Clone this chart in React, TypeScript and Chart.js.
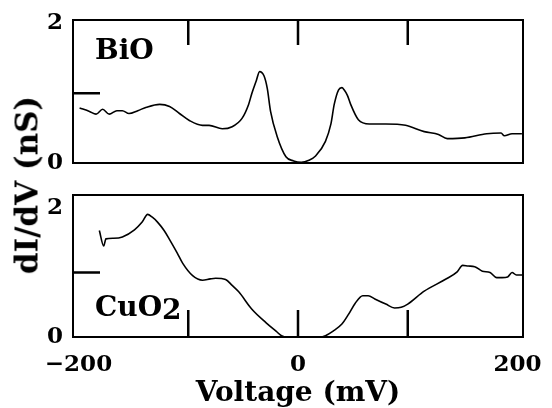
import React, { useEffect, useRef } from "react";
import { Chart, registerables } from "chart.js";

Chart.register(...registerables);

// ---- data (mV, nS) ----
const voltageBiO = [
  -199, -190, -184, -178, -172, -165, -160, -154, -146, -138, -126, -117, -108, -99, -87, -81,
  -69, -60, -51, -45, -42, -38, -35, -31, -28, -25, -19, -11, -4, 3, 10, 16, 25, 30, 33, 37, 40,
  42, 45, 48, 55, 65, 80, 98, 115, 128, 136, 152, 172, 185, 188, 195, 204,
];
const conductanceBiO = [
  0.79, 0.74, 0.70, 0.77, 0.70, 0.75, 0.75, 0.71, 0.75, 0.80, 0.84, 0.81, 0.71, 0.61, 0.54, 0.54,
  0.49, 0.52, 0.64, 0.84, 1.0, 1.18, 1.31, 1.25, 1.07, 0.74, 0.38, 0.09, 0.03, 0.01, 0.04, 0.1,
  0.31, 0.56, 0.84, 1.05, 1.08, 1.05, 0.97, 0.84, 0.62, 0.56, 0.56, 0.54, 0.45, 0.41, 0.35, 0.36,
  0.42, 0.43, 0.39, 0.42, 0.42,
];
const voltageCuO2 = [
  -181, -177, -175, -168, -160, -149, -142, -137, -133, -128, -122, -117, -110, -105, -96, -87,
  -80, -75, -66, -60, -54, -42, -29, -20, -15, -10, 0, 10, 20, 25, 32, 40, 46, 52, 59, 64, 70, 80,
  88, 94, 100, 115, 134, 145, 150, 155, 161, 168, 175, 181, 186, 191, 195, 199, 205,
];
const conductanceCuO2 = [
  1.65, 1.41, 1.52, 1.53, 1.55, 1.66, 1.78, 1.9, 1.86, 1.78, 1.65, 1.51, 1.3, 1.14, 0.95, 0.88,
  0.9, 0.91, 0.89, 0.8, 0.7, 0.43, 0.22, 0.09, 0.02, 0, 0, 0, 0, 0.02, 0.09, 0.2, 0.35, 0.52, 0.64,
  0.64, 0.59, 0.51, 0.45, 0.46, 0.51, 0.71, 0.89, 1.01, 1.11, 1.1, 1.09, 1.02, 1.0, 0.92, 0.92,
  0.93, 1.0, 0.96, 0.96,
];

const xTickLabels = [-200, 0, 200];
const yTickLabels = [0, 2];
const innerXTicks = [-100, 0, 100];
const innerYTicks = [1];
const xMin = -205;
const xMax = 205;
const yMaxBiO = 2.05;
const yMaxCuO2 = 2.2;

const FONT = "'DejaVu Serif', serif";

type Side = "top" | "bottom";

function framePlugin(side: Side) {
  return {
    id: "panelFrame",
    afterDraw(chart: any) {
      const { ctx, chartArea: a, scales } = chart;
      ctx.save();
      ctx.strokeStyle = "#000";
      ctx.lineWidth = 2;
      ctx.strokeRect(a.left, a.top, a.right - a.left, a.bottom - a.top);
      ctx.lineWidth = 2.5;
      ctx.beginPath();
      for (const v of innerXTicks) {
        const px = scales.x.getPixelForValue(v);
        if (side === "top") {
          ctx.moveTo(px, a.top);
          ctx.lineTo(px, a.top + 25);
        } else {
          ctx.moveTo(px, a.bottom);
          ctx.lineTo(px, a.bottom - 27);
        }
      }
      for (const v of innerYTicks) {
        const py = scales.y.getPixelForValue(v);
        ctx.moveTo(a.left, py);
        ctx.lineTo(a.left + 27, py);
      }
      ctx.stroke();
      ctx.restore();
    },
  };
}

function makeConfig(xs: number[], ys: number[], yMax: number, side: Side): any {
  const xScale: any = {
    type: "linear",
    min: xMin,
    max: xMax,
    display: side === "bottom",
    afterBuildTicks: (s: any) => {
      s.ticks = xTickLabels.map((v) => ({ value: v }));
    },
    afterFit: (s: any) => {
      if (side === "bottom") s.height = 71;
      s.paddingLeft = 0;
      s.paddingRight = 0;
    },
    grid: { display: false, drawTicks: false },
    border: { display: false },
    ticks: {
      padding: 14,
      color: "#000",
      maxRotation: 0,
      autoSkip: false,
      font: { family: FONT, size: 23, weight: "bold" },
      callback: (v: number) => (v < 0 ? "\u2212" + Math.abs(v) : String(v)),
    },
    title: {
      display: true,
      text: "Voltage (mV)",
      color: "#000",
      padding: { top: 0, bottom: 0 },
      font: { family: FONT, size: 28, weight: "bold", lineHeight: 1 },
    },
  };
  return {
    type: "line",
    data: {
      datasets: [
        {
          data: xs.map((x, i) => ({ x, y: ys[i] })),
          borderColor: "#000",
          borderWidth: 1.6,
          pointRadius: 0,
          cubicInterpolationMode: "monotone",
          fill: false,
        },
      ],
    },
    options: {
      animation: false,
      responsive: false,
      maintainAspectRatio: false,
      layout: {
        padding:
          side === "top"
            ? { top: 20, right: 29, bottom: 12, left: 0 }
            : { top: 15, right: 29, bottom: 0, left: 0 },
      },
      plugins: { legend: { display: false }, tooltip: { enabled: false } },
      scales: {
        x: xScale,
        y: {
          type: "linear",
          min: 0,
          max: yMax,
          afterBuildTicks: (s: any) => {
            s.ticks = yTickLabels.map((v) => ({ value: v }));
          },
          afterFit: (s: any) => {
            s.width = 73;
            s.paddingTop = 0;
            s.paddingBottom = 0;
          },
          grid: { display: false, drawTicks: false },
          border: { display: false },
          ticks: {
            padding: 10,
            color: "#000",
            font: { family: FONT, size: 23, weight: "bold" },
          },
        },
      },
    },
    plugins: [framePlugin(side)],
  };
}

export default function App() {
  const topRef = useRef<HTMLCanvasElement>(null);
  const botRef = useRef<HTMLCanvasElement>(null);

  useEffect(() => {
    const c1 = new Chart(topRef.current!, makeConfig(voltageBiO, conductanceBiO, yMaxBiO, "top"));
    const c2 = new Chart(botRef.current!, makeConfig(voltageCuO2, conductanceCuO2, yMaxCuO2, "bottom"));
    return () => {
      c1.destroy();
      c2.destroy();
    };
  }, []);

  const label: React.CSSProperties = {
    position: "absolute",
    fontFamily: FONT,
    fontWeight: "bold",
    fontSize: 28,
    lineHeight: 1,
    color: "#000",
    whiteSpace: "nowrap",
  };

  return (
    <div
      style={{
        position: "absolute",
        left: 0,
        top: 0,
        width: 552,
        height: 408,
        background: "#fff",
        overflow: "hidden",
      }}
    >
      <canvas
        ref={botRef}
        width={552}
        height={228}
        style={{ position: "absolute", left: 0, top: 180, display: "block" }}
      />
      <canvas
        ref={topRef}
        width={552}
        height={175}
        style={{ position: "absolute", left: 0, top: 0, display: "block" }}
      />
      <div style={{ ...label, left: 95, top: 36 }}>BiO</div>
      <div style={{ ...label, left: 95, top: 293 }}>
        CuO<span style={{ position: "relative", top: 3 }}>2</span>
      </div>
      <div
        style={{
          ...label,
          fontSize: 31,
          left: 27,
          top: 185,
          transform: "translate(-50%, -50%) rotate(-90deg)",
        }}
      >
        dI/dV (nS)
      </div>
    </div>
  );
}
